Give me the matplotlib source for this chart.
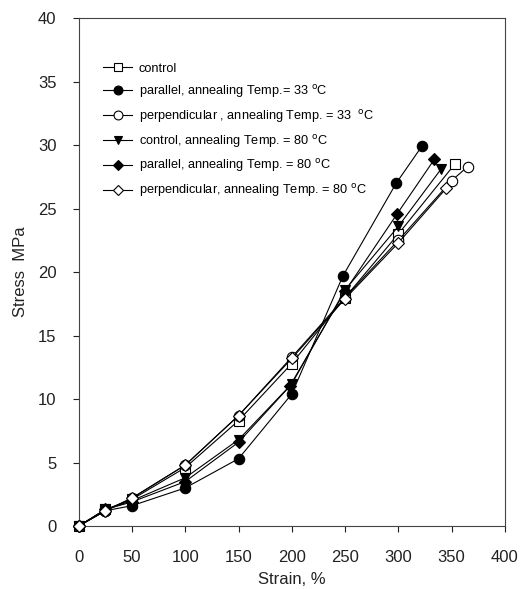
import matplotlib.pyplot as plt

plt.rcParams['font.family'] = ['Liberation Sans', 'DejaVu Sans']

# strain (%) and stress (MPa) for each sample
control_x = [0, 25, 50, 100, 150, 200, 250, 300, 353]
control_y = [0, 1.3, 2.1, 4.6, 8.3, 12.8, 18.0, 23.0, 28.5]

par33_x = [0, 25, 50, 100, 150, 200, 248, 298, 322]
par33_y = [0, 1.2, 1.6, 3.0, 5.3, 10.4, 19.7, 27.0, 29.9]

perp33_x = [0, 25, 50, 100, 150, 200, 250, 300, 350, 365]
perp33_y = [0, 1.2, 2.2, 4.8, 8.7, 13.3, 18.0, 22.5, 27.2, 28.3]

con80_x = [0, 25, 50, 100, 150, 200, 250, 300, 340]
con80_y = [0, 1.3, 2.0, 3.8, 6.8, 11.2, 18.6, 23.6, 28.1]

par80_x = [0, 25, 50, 100, 150, 198, 250, 299, 334]
par80_y = [0, 1.3, 1.9, 3.5, 6.6, 11.0, 18.5, 24.6, 28.9]

perp80_x = [0, 25, 50, 100, 150, 200, 250, 300, 345]
perp80_y = [0, 1.2, 2.2, 4.8, 8.7, 13.2, 17.9, 22.3, 26.6]

labels = ['control',
          'parallel, annealing Temp.= 33 $^{\\rm o}$C',
          'perpendicular , annealing Temp. = 33  $^{\\rm o}$C',
          'control, annealing Temp. = 80 $^{\\rm o}$C',
          'parallel, annealing Temp. = 80 $^{\\rm o}$C',
          'perpendicular, annealing Temp. = 80 $^{\\rm o}$C']

fig = plt.figure(figsize=(5.22, 5.89), dpi=100)
ax = fig.add_axes([0.151, 0.107, 0.816, 0.862])

series = [
    (control_x, control_y, 's', 'white'),
    (par33_x, par33_y, 'o', 'black'),
    (perp33_x, perp33_y, 'o', 'white'),
    (con80_x, con80_y, 'v', 'black'),
    (par80_x, par80_y, 'D', 'black'),
    (perp80_x, perp80_y, 'D', 'white'),
]
for (x, y, m, fc), lab in zip(series, labels):
    ms = 6.5 if m == 'D' else 7.5
    ax.plot(x, y, color='black', lw=0.8, marker=m, ms=ms,
            mfc=fc, mec='black', mew=0.8, label=lab, clip_on=False, zorder=3)

ax.set_xlim(0, 400)
ax.set_ylim(0, 40)
ax.set_xticks(range(0, 401, 50))
ax.set_yticks(range(0, 41, 5))
ax.tick_params(labelsize=12, colors='#222222', length=4, width=0.8)
ax.tick_params(axis='x', pad=13)
ax.tick_params(axis='y', pad=12)
for s in ax.spines.values():
    s.set_linewidth(0.8)
    s.set_color('#444444')

ax.set_xlabel('Strain, %', fontsize=12, color='#222222', labelpad=5)
ax.set_ylabel('Stress  MPa', fontsize=12, color='#222222', labelpad=7)

ax.legend(loc='upper left', bbox_to_anchor=(0.03, 0.935), frameon=False,
          fontsize=9.2, handlelength=2.3, labelspacing=0.62,
          handletextpad=0.5, markerscale=0.85)

fig.savefig('out.png', dpi=100)
